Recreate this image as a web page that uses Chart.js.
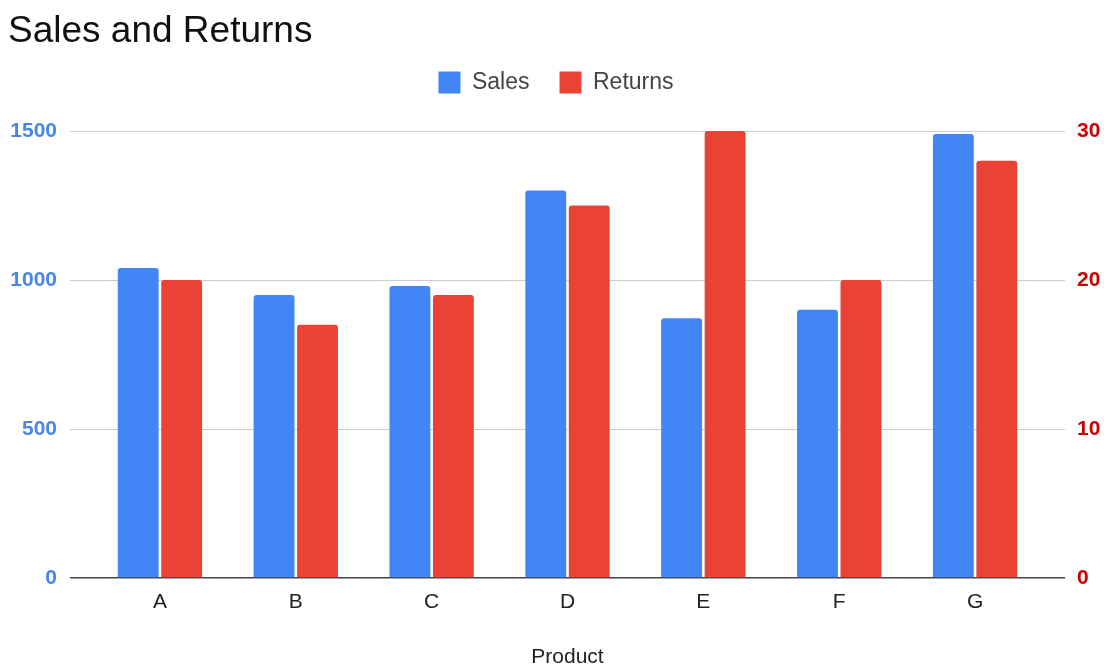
<!DOCTYPE html>
<html lang="en">
<head>
    <meta charset="UTF-8">
    <title>Sales and Returns</title>
    <script src="https://cdn.jsdelivr.net/npm/chart.js"></script>
    <style>
        body { margin: 0; background: #fff; }
        canvas { display: block; }
    </style>
</head>
<body>
    <canvas id="myChart" width="1104" height="666"></canvas>
    <script>
    const products = ['A', 'B', 'C', 'D', 'E', 'F', 'G'];
    const sales = [1040, 950, 980, 1300, 872, 900, 1490];
    const returns = [20, 17, 19, 25, 30, 20, 28];
    const salesTicks = [0, 500, 1000, 1500];
    const returnTicks = [0, 10, 20, 30];

    const FONT = "'Liberation Sans', Arial, sans-serif";

    // extra room under the legend, before the plot starts
    const legendGap = {
        id: 'legendGap',
        beforeInit(chart) {
            const fit = chart.legend.fit;
            chart.legend.fit = function () {
                fit.call(this);
                this.height += 27;
            };
        }
    };

    const gridColor = ctx => (ctx.tick && ctx.tick.value === 0) ? '#444' : '#cccccc';
    const gridWidth = ctx => (ctx.tick && ctx.tick.value === 0) ? 1.5 : 1;

    const ctx = document.getElementById('myChart').getContext('2d');

    new Chart(ctx, {
        type: 'bar',
        data: {
            labels: products,
            datasets: [{
                label: 'Sales',
                data: sales,
                yAxisID: 'y',
                backgroundColor: '#4285f4',
                borderRadius: 3,
                categoryPercentage: 0.64,
                barPercentage: 0.94
            }, {
                label: 'Returns',
                data: returns,
                yAxisID: 'y1',
                backgroundColor: '#ea4335',
                borderRadius: 3,
                categoryPercentage: 0.64,
                barPercentage: 0.94
            }]
        },
        options: {
            responsive: false,
            animation: false,
            layout: { padding: { left: 8, right: 0, top: 0, bottom: 0 } },
            plugins: {
                title: {
                    display: true,
                    text: 'Sales and Returns',
                    align: 'start',
                    color: '#111',
                    font: { family: FONT, size: 37, weight: 'normal', lineHeight: 1 },
                    padding: { top: 13, bottom: -9 }
                },
                legend: {
                    position: 'top',
                    labels: {
                        boxWidth: 22,
                        boxHeight: 22,
                        padding: 30,
                        color: '#444',
                        font: { family: FONT, size: 23 }
                    }
                },
                tooltip: { enabled: false }
            },
            scales: {
                x: {
                    afterFit: s => { s.height = 88; },
                    grid: { display: false, drawTicks: false },
                    border: { display: false },
                    ticks: {
                        color: '#222',
                        padding: 14,
                        font: { family: FONT, size: 21, lineHeight: 1 }
                    },
                    title: {
                        display: true,
                        text: 'Product',
                        color: '#222',
                        font: { family: FONT, size: 21, lineHeight: 1 },
                        padding: { top: 20, bottom: -2 }
                    }
                },
                y: {
                    position: 'left',
                    min: 0,
                    max: 1500,
                    afterFit: s => { s.width = 84; },
                    afterBuildTicks: axis => { axis.ticks = salesTicks.map(v => ({ value: v })); },
                    grid: { color: gridColor, lineWidth: gridWidth, tickLength: 22 },
                    border: { display: false },
                    ticks: {
                        color: '#4a86e8',
                        padding: 13,
                        font: { family: FONT, size: 21, weight: 'bold' },
                        callback: v => String(v)
                    }
                },
                y1: {
                    position: 'right',
                    min: 0,
                    max: 30,
                    afterFit: s => { s.width = 61; },
                    afterBuildTicks: axis => { axis.ticks = returnTicks.map(v => ({ value: v })); },
                    grid: { drawOnChartArea: false, color: gridColor, lineWidth: gridWidth, tickLength: 22 },
                    border: { display: false },
                    ticks: {
                        color: '#cc0000',
                        padding: 12,
                        font: { family: FONT, size: 21, weight: 'bold' },
                        callback: v => String(v)
                    }
                }
            }
        },
        plugins: [legendGap]
    });
    </script>
</body>
</html>
